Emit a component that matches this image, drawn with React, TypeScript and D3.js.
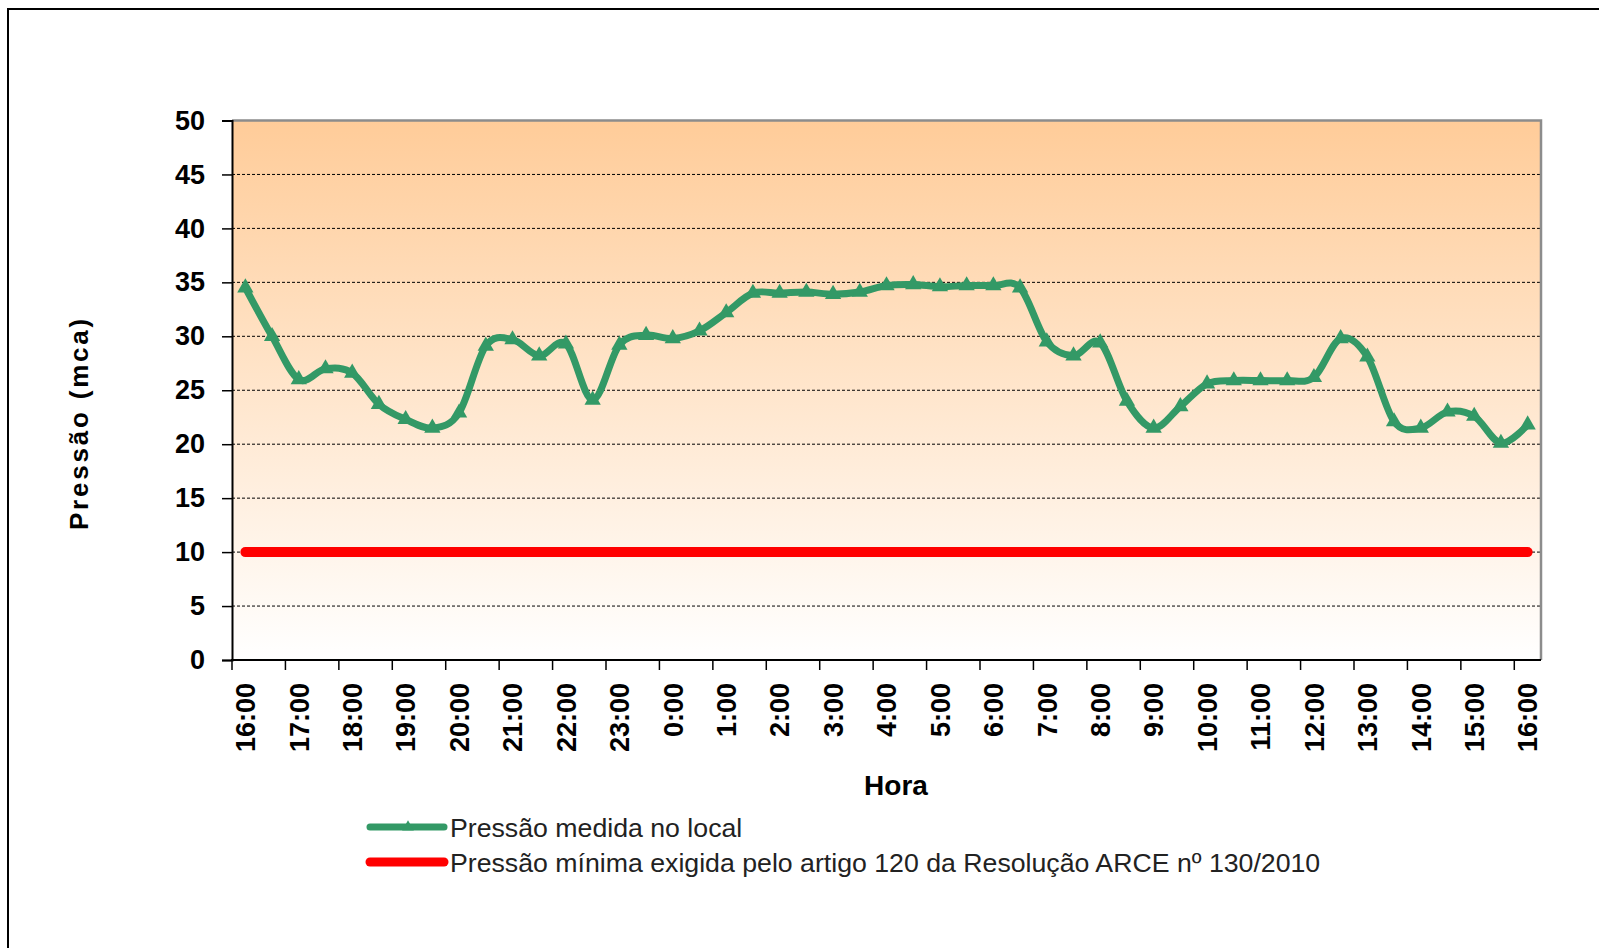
import React, { useEffect, useRef } from 'react';
import * as d3 from 'd3';

// half-hourly readings, 16:00 -> 16:00 next day
const times = [
    '16:00', '16:30', '17:00', '17:30', '18:00', '18:30', '19:00', '19:30',
    '20:00', '20:30', '21:00', '21:30', '22:00', '22:30', '23:00', '23:30',
    '0:00', '0:30', '1:00', '1:30', '2:00', '2:30', '3:00', '3:30',
    '4:00', '4:30', '5:00', '5:30', '6:00', '6:30', '7:00', '7:30',
    '8:00', '8:30', '9:00', '9:30', '10:00', '10:30', '11:00', '11:30',
    '12:00', '12:30', '13:00', '13:30', '14:00', '14:30', '15:00', '15:30',
    '16:00 ',
];

const measured = [
    34.5, 30.0, 26.0, 27.0, 26.6, 23.7, 22.3, 21.5, 22.9, 29.1,
    29.7, 28.2, 29.3, 24.1, 29.2, 30.1, 29.8, 30.5, 32.2, 34.0,
    34.0, 34.1, 33.9, 34.1, 34.7, 34.8, 34.6, 34.7, 34.7, 34.5,
    29.5, 28.2, 29.4, 24.0, 21.5, 23.5, 25.6, 25.9, 25.9, 25.9,
    26.2, 29.8, 28.1, 22.1, 21.5, 23.0, 22.6, 20.1, 21.8,
];

const minimum = [
    10, 10, 10, 10, 10, 10, 10, 10, 10, 10,
    10, 10, 10, 10, 10, 10, 10, 10, 10, 10,
    10, 10, 10, 10, 10, 10, 10, 10, 10, 10,
    10, 10, 10, 10, 10, 10, 10, 10, 10, 10,
    10, 10, 10, 10, 10, 10, 10, 10, 10,
];

const yTicks = [0, 5, 10, 15, 20, 25, 30, 35, 40, 45, 50];

const seriesNames = [
    'Pressão medida no local',
    'Pressão mínima exigida pelo artigo 120 da Resolução ARCE nº 130/2010',
];

const WIDTH = 1599;
const HEIGHT = 948;
const FONT = 'Arial, "Liberation Sans", sans-serif';
const GREEN = '#339966';
const RED = '#ff0000';

const App: React.FC = () => {
    const ref = useRef<SVGSVGElement>(null);

    useEffect(() => {
        const svg = d3.select(ref.current);
        svg.selectAll('*').remove();
        svg.attr('width', WIDTH).attr('height', HEIGHT);

        const plot = { left: 232, right: 1541, top: 120.5, bottom: 660 };

        // outer chart frame (runs off the picture on the right/bottom)
        svg.append('rect')
            .attr('x', 8).attr('y', 9)
            .attr('width', 1620).attr('height', 980)
            .attr('fill', '#fff')
            .attr('stroke', '#000')
            .attr('stroke-width', 2);

        const x = d3.scaleBand<number>()
            .domain(d3.range(times.length))
            .range([plot.left, plot.right])
            .padding(0);
        const cx = (i: number) => (x(i) ?? 0) + x.bandwidth() / 2;

        const y = d3.scaleLinear()
            .domain([0, 50])
            .range([plot.bottom, plot.top]);

        // plot area gradient
        const grad = svg.append('defs')
            .append('linearGradient')
            .attr('id', 'bg')
            .attr('x1', 0).attr('y1', 0).attr('x2', 0).attr('y2', 1);
        grad.append('stop').attr('offset', '0%').attr('stop-color', '#ffcc99');
        grad.append('stop').attr('offset', '100%').attr('stop-color', '#ffffff');

        svg.append('rect')
            .attr('x', plot.left).attr('y', plot.top)
            .attr('width', plot.right - plot.left)
            .attr('height', plot.bottom - plot.top)
            .attr('fill', 'url(#bg)');

        // dashed gridlines
        svg.append('g')
            .selectAll('line')
            .data(yTicks.filter((t) => t > 0 && t < 50))
            .join('line')
            .attr('x1', plot.left).attr('x2', plot.right)
            .attr('y1', (d) => y(d)).attr('y2', (d) => y(d))
            .attr('stroke', '#000')
            .attr('stroke-width', 1)
            .attr('stroke-dasharray', '3,2');

        // gray border on top and right
        svg.append('path')
            .attr('d', `M${plot.left},${plot.top}H${plot.right}V${plot.bottom}`)
            .attr('fill', 'none')
            .attr('stroke', '#8c8c8c')
            .attr('stroke-width', 2.5);

        // y axis
        const yAxis = svg.append('g')
            .attr('transform', `translate(${plot.left},0)`)
            .call(d3.axisLeft(y).tickValues(yTicks).tickSize(10).tickPadding(17));
        yAxis.select('.domain').attr('stroke', '#000').attr('stroke-width', 2);
        yAxis.selectAll('.tick line').attr('stroke', '#000').attr('stroke-width', 1.5);
        yAxis.selectAll('text')
            .attr('font-family', FONT)
            .attr('font-size', 27)
            .attr('font-weight', 'bold')
            .attr('fill', '#000');

        // x axis: tick every 2 categories at band edges, labels at band centres
        const hourIdx = d3.range(0, times.length, 2);
        const xAxis = svg.append('g');
        xAxis.append('line')
            .attr('x1', plot.left - 1).attr('x2', plot.right)
            .attr('y1', plot.bottom).attr('y2', plot.bottom)
            .attr('stroke', '#000').attr('stroke-width', 2);
        xAxis.selectAll('line.tick')
            .data(hourIdx)
            .join('line')
            .attr('class', 'tick')
            .attr('x1', (d) => x(d) ?? 0).attr('x2', (d) => x(d) ?? 0)
            .attr('y1', plot.bottom).attr('y2', plot.bottom + 10)
            .attr('stroke', '#000').attr('stroke-width', 1.5);
        xAxis.selectAll('text')
            .data(hourIdx)
            .join('text')
            .attr('transform', (d) => `translate(${cx(d)},${plot.bottom + 23}) rotate(-90)`)
            .attr('text-anchor', 'end')
            .attr('dy', '0.36em')
            .attr('font-family', FONT)
            .attr('font-size', 27)
            .attr('font-weight', 'bold')
            .text((d) => times[d].trim());

        // axis titles
        svg.append('text')
            .attr('transform', 'translate(88,423) rotate(-90)')
            .attr('text-anchor', 'middle')
            .attr('font-family', FONT)
            .attr('font-size', 26)
            .attr('font-weight', 'bold')
            .attr('letter-spacing', 2.8)
            .text('Pressão (mca)');

        svg.append('text')
            .attr('x', 896).attr('y', 795)
            .attr('text-anchor', 'middle')
            .attr('font-family', FONT)
            .attr('font-size', 28)
            .attr('font-weight', 'bold')
            .text('Hora');

        // minimum required pressure
        const line = d3.line<number>()
            .x((_, i) => cx(i))
            .y((d) => y(d));

        svg.append('path')
            .datum(minimum)
            .attr('d', line)
            .attr('fill', 'none')
            .attr('stroke', RED)
            .attr('stroke-width', 10)
            .attr('stroke-linecap', 'round');

        // measured pressure, smoothed
        svg.append('path')
            .datum(measured)
            .attr('d', line.curve(d3.curveCardinal.tension(0)))
            .attr('fill', 'none')
            .attr('stroke', GREEN)
            .attr('stroke-width', 7)
            .attr('stroke-linejoin', 'round');

        const tri = d3.symbol().type(d3.symbolTriangle).size(115);
        svg.append('g')
            .selectAll('path')
            .data(measured)
            .join('path')
            .attr('transform', (d, i) => `translate(${cx(i)},${y(d)})`)
            .attr('d', tri)
            .attr('fill', GREEN);

        // legend
        const legend = svg.append('g').attr('transform', 'translate(370,0)');
        const rows = [
            { name: seriesNames[0], color: GREEN, w: 7, y: 827, marker: true },
            { name: seriesNames[1], color: RED, w: 9, y: 862, marker: false },
        ];
        rows.forEach((r) => {
            legend.append('line')
                .attr('x1', 0).attr('x2', 74)
                .attr('y1', r.y).attr('y2', r.y)
                .attr('stroke', r.color)
                .attr('stroke-width', r.w)
                .attr('stroke-linecap', 'round');
            if (r.marker) {
                legend.append('path')
                    .attr('transform', `translate(38,${r.y})`)
                    .attr('d', d3.symbol().type(d3.symbolTriangle).size(60))
                    .attr('fill', r.color);
            }
            legend.append('text')
                .attr('x', 80).attr('y', r.y + 10)
                .attr('font-family', FONT)
                .attr('font-size', 26.7)
                .attr('fill', '#222')
                .text(r.name);
        });
    }, []);

    return (
        <svg
            ref={ref}
            style={{ position: 'absolute', left: 0, top: 0, display: 'block' }}
        ></svg>
    );
};

export default App;
